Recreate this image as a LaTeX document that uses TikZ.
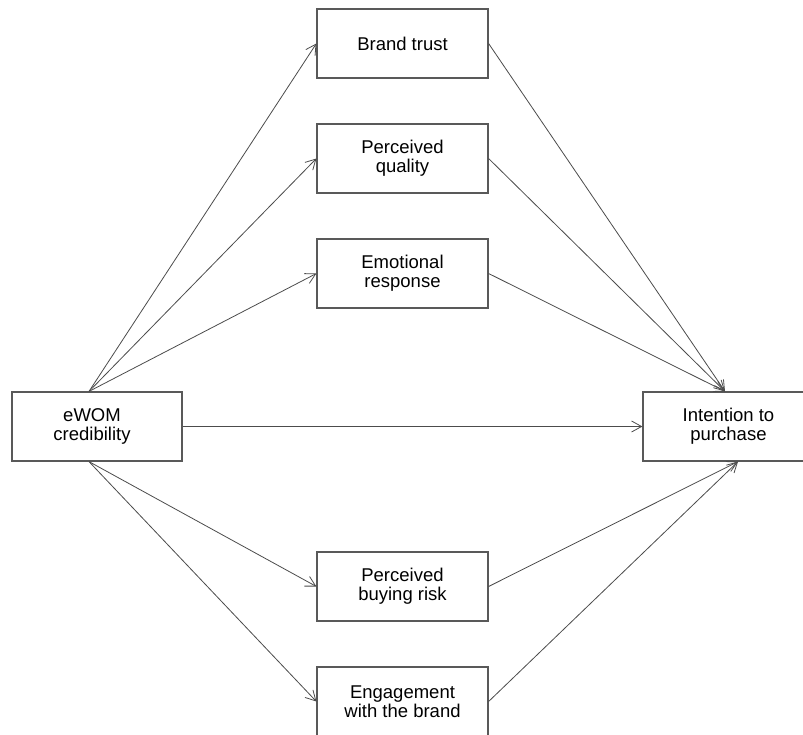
\documentclass[tikz,border=0pt]{standalone}
\usepackage{fontspec}
\setmainfont{Liberation Sans}
\usetikzlibrary{arrows.meta}
\begin{document}
\begin{tikzpicture}[x=1pt,y=-1pt,
  box/.style={draw=black!65, line width=1.2pt, minimum width=171pt, minimum height=69pt,
    inner sep=0pt, align=center, font=\fontsize{18.5}{19}\selectfont, text=black},
  link/.style={draw=black!70, line width=0.8pt, -{Straight Barb[length=10pt,width=11pt,line width=0.8pt]}}]
\useasboundingbox (0,0) rectangle (803,734);
\clip (0,0) rectangle (803,734);
\fill[white] (0,0) rectangle (803,734);
\node[box] (bt)  at (402.5,43.5)  {Brand trust};
\node[box] (pq)  at (402.5,158.5) {Perceived\\quality};
\node[box] (er)  at (402.5,273.5) {Emotional\\response};
\node[box, minimum width=170pt] (ew) at (97,426.5) {\hspace*{-10pt}eWOM\\\hspace*{-10pt}credibility};
\node[box] (ip)  at (728.5,426.5) {Intention to\\purchase};
\node[box] (pbr) at (402.5,586.5) {Perceived\\buying risk};
\node[box] (eng) at (402.5,701.5) {Engagement\\with the brand};
\coordinate (ewt) at ([xshift=-8pt]ew.north);
\coordinate (ewb) at ([xshift=-8pt]ew.south);
\coordinate (ipt) at ([xshift=-3.5pt]ip.north);
\coordinate (ipb) at ([xshift=9.5pt]ip.south);
\draw[link] (ewt) -- (bt.west);
\draw[link] (ewt) -- (pq.west);
\draw[link] (ewt) -- (er.west);
\draw[link] (ewb) -- (pbr.west);
\draw[link] (ewb) -- (eng.west);
\draw[link] (ew.east) -- (ip.west);
\draw[link] (bt.east) -- (ipt);
\draw[link] (pq.east) -- (ipt);
\draw[link] (er.east) -- (ipt);
\draw[link] (pbr.east) -- (ipb);
\draw[link] (eng.east) -- (ipb);
\end{tikzpicture}
\end{document}
